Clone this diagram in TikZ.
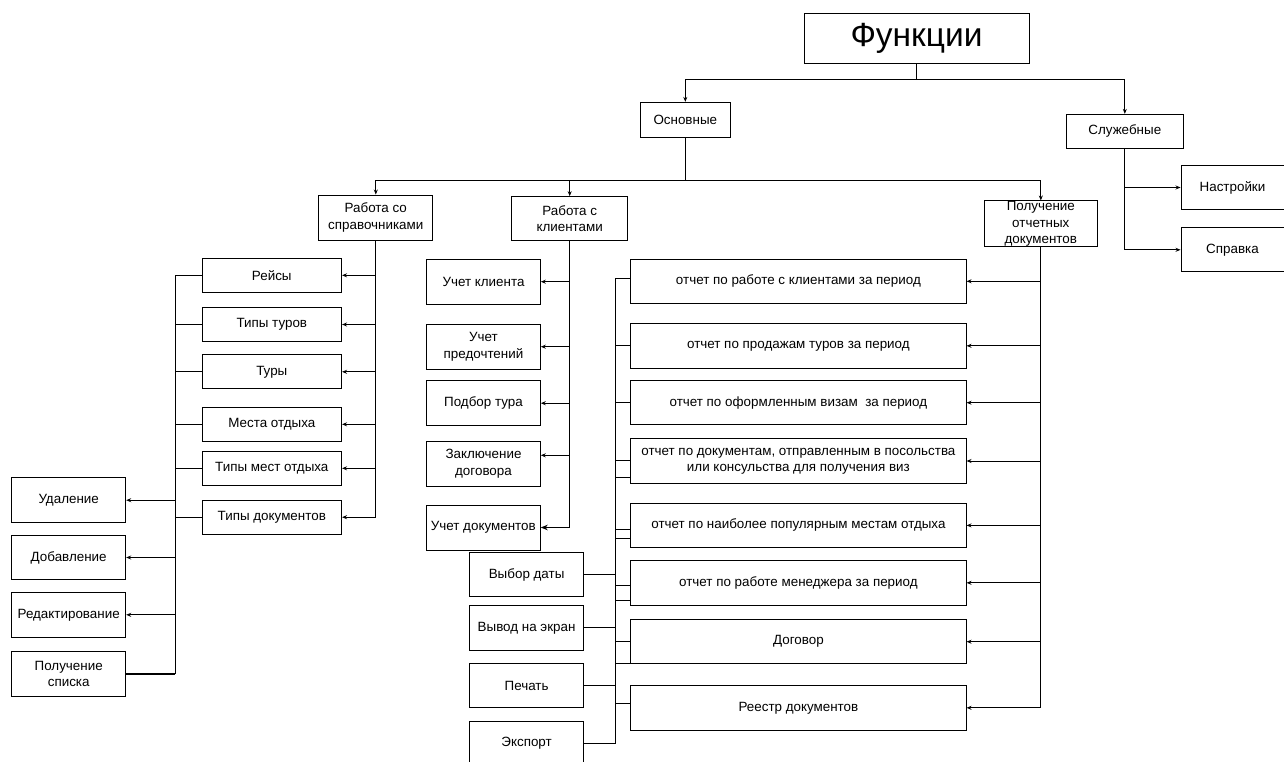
\documentclass[tikz,border=0pt]{standalone}
\usepackage{fontspec}
\setmainfont{Liberation Sans}
\usetikzlibrary{arrows.meta,calc}
\newcommand{\fsn}{\fontsize{13.4}{16.3}\selectfont}
\newcommand{\fsbig}{\fontsize{33.5}{38}\selectfont}
\begin{document}
\begin{tikzpicture}[x=1pt,y=-1pt,line width=0.95pt,
  box/.style={draw,rectangle,inner sep=0pt,align=center,font=\fsn},
  sbox/.style={box,minimum width=139.5,minimum height=34},
  lbox/.style={box,minimum width=114,minimum height=44.5},
  rbox/.style={box,minimum width=335.3,minimum height=44.4},
  arr/.style={-{Stealth[length=5pt,width=4pt]}},
  bigarr/.style={-{Stealth[length=7pt,width=5.5pt]}}]
\useasboundingbox (0,0) rectangle (1284,762);
% top levels
\node[box,font=\fsbig,minimum width=225,minimum height=50] (fun) at (916.5,38) {Функции};
\node[box,minimum width=89.4,minimum height=34.7] (osn) at (685.3,119.7) {Основные};
\node[box,minimum width=117.5,minimum height=33.7] (slu) at (1124.8,131.2) {Служебные};
\node[box,minimum width=110,minimum height=43.6,anchor=west] (nas) at (1180.5,187.5) {\hspace*{-7pt}Настройки};
\node[box,minimum width=110,minimum height=44,anchor=west] (spr) at (1180.5,249.8) {\hspace*{-7pt}Справка};
\node[box,minimum width=114.3,minimum height=45] (rsp) at (375.8,217.5) {Работа со\\справочниками};
\node[box,minimum width=116,minimum height=44.3] (rk) at (569.7,218.8) {Работа с\\клиентами};
\node[box,minimum width=113.6,minimum height=45.7] (pod) at (1040.8,223.8) {};
\node[font=\fsn,align=center,inner sep=0pt] (podt) at (pod.center) {Получение\\отчетных\\документов};
% reference books
\node[sbox] (reis) at (271.8,275.3) {Рейсы};
\node[sbox] (tt) at (271.8,324.5) {Типы туров};
\node[sbox] (tury) at (271.8,371.8) {Туры};
\node[sbox] (mo) at (271.8,424.3) {Места отдыха};
\node[sbox] (tmo) at (271.8,468.3) {Типы мест отдыха};
\node[sbox] (td) at (271.8,517.2) {Типы документов};
% far left
\node[lbox,minimum height=45] (ud) at (68.7,500.2) {Удаление};
\node[lbox] (dob) at (68.7,557.5) {Добавление};
\node[lbox] (red) at (68.7,614.8) {Редактирование};
\node[lbox] (pol) at (68.7,673.8) {Получение\\списка};
% clients
\node[lbox,minimum width=113.6,minimum height=44.7] (uk) at (483.5,281.7) {Учет клиента};
\node[lbox,minimum width=113.6,minimum height=44.7] (up) at (483.5,346.7) {Учет\\предочтений};
\node[lbox,minimum width=113.6,minimum height=45] (pt) at (483.5,403.2) {Подбор тура};
\node[lbox,minimum width=113.6,minimum height=44.7] (zd) at (483.5,463.7) {Заключение\\договора};
\node[lbox,minimum width=114,minimum height=45] (udoc) at (483.3,527.5) {Учет документов};
% outputs
\node[lbox,minimum height=44.4] (vd) at (526.6,574.5) {Выбор даты};
\node[lbox,minimum height=44.4] (ve) at (526.6,627.8) {Вывод на экран};
\node[lbox,minimum height=44.4] (pe) at (526.6,685.5) {Печать};
\node[lbox,minimum height=44.4] (ex) at (526.6,743.2) {Экспорт};
% reports
\node[rbox,minimum height=44] (r1) at (798.4,281.3) {отчет по работе с клиентами за период};
\node[rbox] (r2) at (798.4,345.8) {отчет по продажам туров за период};
\node[rbox] (r3) at (798.4,402.7) {отчет по оформленным визам\ \ за период};
\node[rbox] (r4) at (798.4,461) {отчет по документам, отправленным в посольства\\или консульства для получения виз};
\node[rbox] (r5) at (798.4,525.4) {отчет по наиболее популярным местам отдыха};
\node[rbox] (r6) at (798.4,582.8) {отчет по работе менеджера за период};
\node[rbox] (r7) at (798.4,641.7) {Договор};
\node[rbox] (r8) at (798.4,707.8) {Реестр документов};
% coordinates
\coordinate (j1) at (916.5,79);
\coordinate (j2) at (685.3,180.3);
\coordinate (lb) at (175,0);
\coordinate (mb) at (615.5,0);
% top connectors
\draw (fun.south) -- (j1);
\draw[arr] (j1) -| (osn.north);
\draw[arr] (j1) -| (slu.north);
\draw (osn.south) -- (j2);
\draw[arr] (j2) -| (rsp.north);
\draw[arr] (j2) -| (rk.north);
\draw[arr] (j2) -| (pod.north);
\draw[arr] (slu.south) |- (nas.west);
\draw[arr] (slu.south) |- (spr.west);
% reference book branch
\foreach \n in {reis,tt,tury,mo,tmo,td}{
  \draw[arr] (rsp.south) |- (\n.east);
  \draw (\n.west) -- (\n.west -| lb);
}
\draw (reis.west -| lb) -- (pol.east -| lb);
\foreach \n in {ud,dob,red}{\draw[arr] (\n.east -| lb) -- (\n.east);}
\draw[line width=1.4pt] (pol.east -| lb) -- (pol.east);
% clients branch
\foreach \n in {uk,up,pt}{\draw[arr] (rk.south) |- (\n.east);}
\draw[arr] (rk.south) |- ($(zd.east)+(0,-8.4)$);
\draw[bigarr] (rk.south) |- (udoc.east);
% outputs
\foreach \n in {vd,ve,pe,ex}{\draw (\n.east) -- (\n.east -| mb);}
\draw ($(r1.west -| mb)+(0,-3)$) -- (ex.east -| mb);
\draw ($(r1.west)+(0,-3)$) -- ($(r1.west -| mb)+(0,-3)$);
\draw (r2.west) -- (r2.west -| mb);
\draw (r3.west) -- (r3.west -| mb);
\draw ($(r4.west)+(0,-1)$) -- ($(r4.west -| mb)+(0,-1)$);
\draw ($(r4.west)+(0,16.3)$) -- ($(r4.west -| mb)+(0,16.3)$);
\draw ($(r5.west)+(0,3.6)$) -- ($(r5.west -| mb)+(0,3.6)$);
\draw ($(r5.west)+(0,12.9)$) -- ($(r5.west -| mb)+(0,12.9)$);
\draw ($(r6.west)+(0,2.5)$) -- ($(r6.west -| mb)+(0,2.5)$);
\draw ($(r6.west)+(0,17.2)$) -- ($(r6.west -| mb)+(0,17.2)$);
\draw (r7.west) -- (r7.west -| mb);
\draw ($(r7.west)+(0,21.6)$) -- ($(r7.west -| mb)+(0,21.6)$);
\draw ($(r8.west)+(0,-4.5)$) -- ($(r8.west -| mb)+(0,-4.5)$);
% reports branch
\foreach \n in {r1,r2,r3,r4,r5,r6,r7,r8}{\draw[arr] (pod.south) |- (\n.east);}
\end{tikzpicture}
\end{document}
